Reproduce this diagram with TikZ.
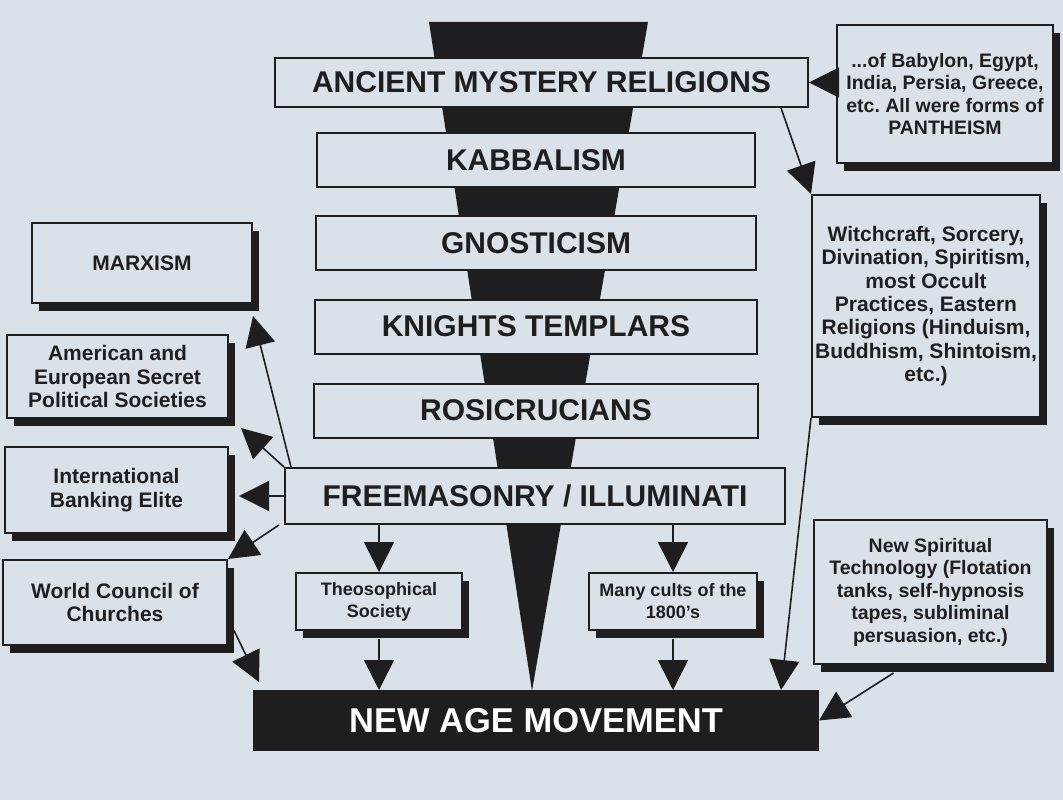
\documentclass[tikz,border=0pt]{standalone}
\usepackage{fontspec}
\setmainfont{Liberation Sans}
\usetikzlibrary{arrows.meta,shadows}

\definecolor{paper}{RGB}{219,225,232}
\definecolor{ink}{RGB}{30,30,32}

\begin{document}
\begin{tikzpicture}[x=1pt,y=-1pt,
    every node/.style={text=ink, align=center, inner sep=0pt},
    stage/.style={draw=ink, line width=2pt, fill=paper, minimum height=54pt,
        font=\bfseries\fontsize{30}{32}\selectfont},
    sidebox/.style={draw=ink, line width=2pt, fill=paper,
        font=\bfseries\fontsize{21}{23.3}\selectfont,
        drop shadow={shadow xshift=7pt, shadow yshift=-8pt, opacity=1, fill=ink}},
    smallbox/.style={sidebox, font=\bfseries\fontsize{18}{22}\selectfont},
    arr/.style={draw=ink, line width=1.6pt, -{Triangle[length=30pt,width=30pt]}}]

    \useasboundingbox (0,0) rectangle (1063,800);
    \fill[paper] (0,0) rectangle (1063,800);

    % the funnel behind the stages
    \fill[ink] (429,22) -- (648,22) -- (532,691) -- cycle;

    \node[stage, minimum width=533pt, minimum height=49pt] (amr) at (541.5,82.5) {ANCIENT MYSTERY RELIGIONS};
    \node[stage, minimum width=438pt] (kab) at (536,160) {KABBALISM};
    \node[stage, minimum width=440pt] (gno) at (536,243) {GNOSTICISM};
    \node[stage, minimum width=442pt] (kni) at (536,326.5) {KNIGHTS TEMPLARS};
    \node[stage, minimum width=444pt] (ros) at (536,410.5) {ROSICRUCIANS};
    \node[stage, minimum width=500pt, minimum height=56pt] (fm) at (535,496) {FREEMASONRY / ILLUMINATI};
    \node[stage, fill=ink, text=white!92!paper, minimum width=564pt, minimum height=59pt,
        font=\bfseries\fontsize{34.5}{36}\selectfont] (nam) at (536,720.5) {NEW AGE MOVEMENT};

    \node[smallbox, minimum width=166pt, minimum height=57pt] (theo) at (379,601.5) {Theosophical\\Society};
    \node[smallbox, minimum width=168pt, minimum height=57pt] (cults) at (673,601.5) {Many cults of the\\1800’s};

    \node[sidebox, minimum width=220pt, minimum height=80pt] (marx) at (142,263) {MARXISM};
    \node[sidebox, minimum width=221pt, minimum height=83pt] (amer) at (117.5,376.5) {American and\\European Secret\\Political Societies};
    \node[sidebox, minimum width=223pt, minimum height=86pt] (bank) at (116.5,490) {International\\Banking Elite};
    \node[sidebox, minimum width=224pt, minimum height=85pt] (wcc) at (115,602.5) {World Council of\\Churches};

    \node[sidebox, minimum width=216pt, minimum height=138pt,
        font=\bfseries\fontsize{19.5}{22.5}\selectfont] (panth) at (945,94)
        {...of Babylon, Egypt,\\India, Persia, Greece,\\etc.\ All were forms of\\PANTHEISM};
    \node[sidebox, minimum width=228pt, minimum height=222pt] (witch) at (926,306)
        {Witchcraft, Sorcery,\\Divination, Spiritism,\\most Occult\\Practices, Eastern\\Religions (Hinduism,\\Buddhism, Shintoism,\\etc.)};
    \node[sidebox, minimum width=233pt, minimum height=144pt,
        font=\bfseries\fontsize{19.5}{22.5}\selectfont] (nst) at (930.5,592)
        {New Spiritual\\Technology (Flotation\\tanks, self-hypnosis\\tapes, subliminal\\persuasion, etc.)};

    \draw[arr] (panth.west |- amr.east) -- (amr.east);
    \draw[arr] ([xshift=-28pt]amr.south east) -- (witch.north west);
    \draw[arr] (witch.south west) -- ([xshift=-38pt]nam.north east);
    \draw[arr] ([xshift=-37pt,yshift=-8pt]nst.south) -- (nam.east);

    \draw[arr] ([xshift=7pt]fm.north west) -- ([yshift=-12pt]marx.south east);
    \draw[arr] (fm.north west) -- ([xshift=12pt,yshift=-9pt]amer.south east);
    \draw[arr, shorten >=10pt] (fm.west) -- (fm.west -| bank.east);
    \draw[arr] ([xshift=-5pt]fm.south west) -- (wcc.north east);
    \draw[arr] ([xshift=6pt,yshift=-28pt]wcc.east) -- ([xshift=6pt,yshift=8pt]nam.north west);

    \draw[arr] (fm.south -| theo) -- (theo.north);
    \draw[arr] (fm.south -| cults) -- (cults.north);
    \draw[arr] ([yshift=-8pt]theo.south) -- (theo.south |- nam.north);
    \draw[arr] ([yshift=-8pt]cults.south) -- (cults.south |- nam.north);
\end{tikzpicture}
\end{document}
